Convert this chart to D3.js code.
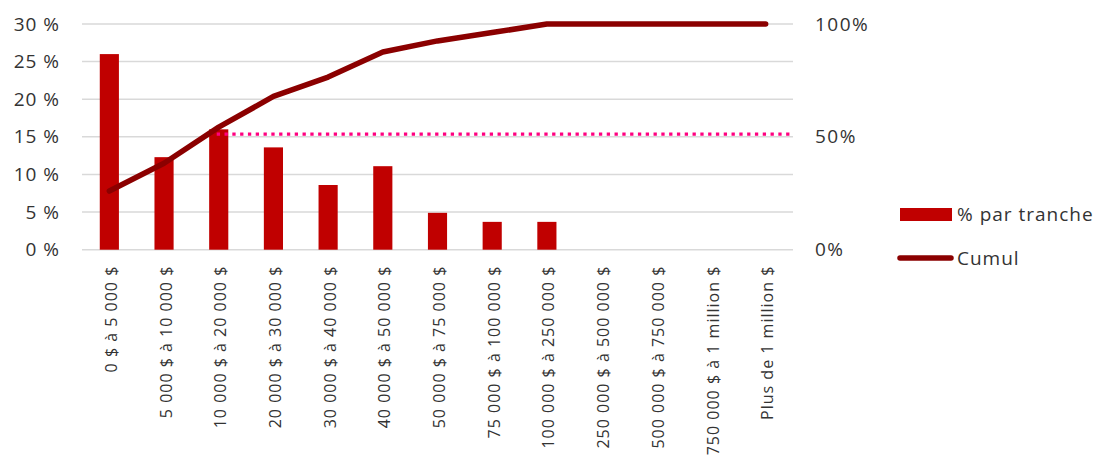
<!DOCTYPE html>
<html>
<head>
<meta charset="utf-8">
<script src="https://cdn.jsdelivr.net/npm/d3@7"></script>
<style>
  html, body { margin: 0; padding: 0; background: #fff; }
  svg { display: block; font-family: "Open Sans", "Noto Sans", sans-serif; }
</style>
</head>
<body>
<svg id="chart" width="1101" height="460"></svg>
<script>
// Income brackets
const categories = [
  "0 $ à 5 000 $", "5 000 $ à 10 000 $", "10 000 $ à 20 000 $", "20 000 $ à 30 000 $",
  "30 000 $ à 40 000 $", "40 000 $ à 50 000 $", "50 000 $ à 75 000 $", "75 000 $ à 100 000 $",
  "100 000 $ à 250 000 $", "250 000 $ à 500 000 $", "500 000 $ à 750 000 $",
  "750 000 $ à 1 million $", "Plus de 1 million $"
];
// Share of each bracket (%)
const shareValues = [26.0, 12.3, 16.0, 13.6, 8.6, 11.1, 4.9, 3.7, 3.7, 0, 0, 0, 0];
// Cumulative share (%)
const cumulValues = [26.0, 38.3, 54.3, 67.9, 76.5, 87.6, 92.5, 96.2, 100, 100, 100, 100, 100];
// Reference level (right axis, %), drawn from the 3rd bracket onward
const referenceLevel = 51.2;
const referenceStart = 2;

const leftTicks = [0, 5, 10, 15, 20, 25, 30];
const rightTicks = [0, 50, 100];

const svg = d3.select("#chart");
const m = { left: 82, right: 793, top: 24, bottom: 249.7 };

const x = d3.scaleBand().domain(categories).range([m.left, m.right]).paddingInner(0.65).paddingOuter(0.325);
const yL = d3.scaleLinear().domain([0, 30]).range([m.bottom, m.top]);
const yR = d3.scaleLinear().domain([0, 100]).range([m.bottom, m.top]);

// Horizontal gridlines
svg.append("g").selectAll("line").data(leftTicks).join("line")
  .attr("x1", m.left).attr("x2", m.right)
  .attr("y1", d => yL(d)).attr("y2", d => yL(d))
  .attr("stroke", "#d9d9d9").attr("stroke-width", 1.5);

// Left axis
const leftAxis = svg.append("g").attr("transform", `translate(${m.left - 22},0)`)
  .call(d3.axisLeft(yL).tickValues(leftTicks).tickSize(0).tickPadding(0).tickFormat(d => d + " %"));
leftAxis.select(".domain").remove();
leftAxis.selectAll("text").attr("font-size", 19).attr("letter-spacing", 1).attr("fill", "#333")
  .attr("font-family", "'Open Sans', sans-serif");

// Right axis
const rightAxis = svg.append("g").attr("transform", `translate(815,0)`)
  .call(d3.axisRight(yR).tickValues(rightTicks).tickSize(0).tickPadding(0).tickFormat(d => d + "%"));
rightAxis.select(".domain").remove();
rightAxis.selectAll("text").attr("font-size", 19).attr("letter-spacing", 1.5).attr("fill", "#333")
  .attr("font-family", "'Open Sans', sans-serif");

// Bars
svg.append("g").selectAll("rect").data(categories).join("rect")
  .attr("x", d => x(d))
  .attr("width", x.bandwidth())
  .attr("y", (d, i) => yL(shareValues[i]))
  .attr("height", (d, i) => yL(0) - yL(shareValues[i]))
  .attr("fill", "#c00000");

// Dotted reference line
svg.append("line")
  .attr("x1", x(categories[referenceStart]) + x.bandwidth() / 2 - 2)
  .attr("x2", m.right - 2)
  .attr("y1", yR(referenceLevel)).attr("y2", yR(referenceLevel))
  .attr("stroke", "#ff0080").attr("stroke-width", 3.3)
  .attr("stroke-dasharray", "3.3,4.5");

// Cumulative line
const line = d3.line()
  .x((d, i) => x(categories[i]) + x.bandwidth() / 2)
  .y(d => yR(d));
svg.append("path").datum(cumulValues)
  .attr("d", line)
  .attr("fill", "none").attr("stroke", "#8b0000").attr("stroke-width", 5.5)
  .attr("stroke-linecap", "round").attr("stroke-linejoin", "round");

// Category labels, rotated
const xAxis = svg.append("g").attr("transform", `translate(0,${m.bottom})`)
  .call(d3.axisBottom(x).tickSize(0).tickPadding(0));
xAxis.select(".domain").remove();
xAxis.selectAll("text")
  .attr("font-size", 16).attr("letter-spacing", 1).attr("fill", "#333")
  .attr("font-family", "'Open Sans', sans-serif")
  .attr("text-anchor", "end")
  .attr("transform", "translate(2,16) rotate(-90)")
  .attr("x", 0).attr("y", 0).attr("dy", "0.35em");

// Legend
const legend = svg.append("g");
legend.append("rect").attr("x", 900).attr("y", 208).attr("width", 52).attr("height", 13).attr("fill", "#c00000");
legend.append("text").attr("x", 957).attr("y", 214.5).attr("dy", "0.35em")
  .attr("font-size", 19).attr("letter-spacing", 1).attr("fill", "#333").text("% par tranche");
legend.append("line").attr("x1", 900).attr("x2", 951).attr("y1", 258).attr("y2", 258)
  .attr("stroke", "#8b0000").attr("stroke-width", 5.5).attr("stroke-linecap", "round");
legend.append("text").attr("x", 957).attr("y", 258).attr("dy", "0.35em")
  .attr("font-size", 19).attr("letter-spacing", 1).attr("fill", "#333").text("Cumul");
</script>
</body>
</html>
